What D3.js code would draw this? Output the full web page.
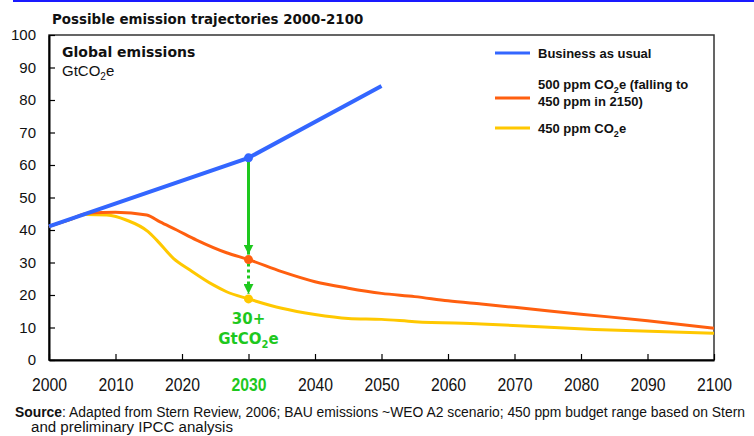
<!DOCTYPE html>
<meta charset="utf-8">
<script src="https://d3js.org/d3.v7.min.js"></script>
<style>
  body { margin: 0; background: #fff; }
  svg text { fill: #111; }
</style>
<div id="chart"></div>
<script>
// ---- data ----
var years = [2000, 2010, 2020, 2030, 2040, 2050, 2060, 2070, 2080, 2090, 2100]
var yTicks = [0, 10, 20, 30, 40, 50, 60, 70, 80, 90, 100]

var bauYears = [2000, 2030, 2050]
var bauValues = [41.1, 62.2, 84.3]

var ppm500Years = [2000, 2003, 2006, 2010, 2014.7, 2016.7, 2019.2, 2022.2, 2026.7, 2030, 2035, 2040, 2045, 2050, 2055, 2060, 2065, 2070, 2080, 2090, 2100]
var ppm500Values = [41.1, 43.1, 45.2, 45.5, 44.6, 42.5, 40, 36.9, 33, 30.9, 27.2, 24.1, 22.1, 20.5, 19.5, 18.2, 17.2, 16.2, 14.1, 12.1, 9.8]

var ppm450Years = [2000, 2003, 2005.5, 2008.7, 2011.7, 2014.9, 2016.2, 2018.7, 2021.2, 2024.7, 2026.7, 2030, 2035, 2040, 2045, 2050, 2055, 2065, 2082, 2100]
var ppm450Values = [41.1, 43.1, 44.8, 44.6, 43, 39.5, 36.9, 31.3, 27.7, 23.1, 21, 18.8, 15.9, 14.0, 12.8, 12.5, 11.8, 11.1, 9.4, 8.2]

var markYear = 2030

var width = 754, height = 436
var mLeft = 49, mRight = 714, mTop = 35, mBottom = 360

var svg = d3.select("#chart").append("svg")
    .attr("width", width)
    .attr("height", height)

var x = d3.scaleLinear().domain([2000, 2100]).range([mLeft, mRight])
var y = d3.scaleLinear().domain([0, 100]).range([mBottom, mTop])

var blue = "#3366ff", orange = "#ff5f0f", yellow = "#ffc800", green = "#1ec81e"

// top rule + title
svg.append("line")
  .attr("x1", 13).attr("x2", width).attr("y1", 1).attr("y2", 1)
  .style("stroke", "#1a1aff").style("stroke-width", 2)

svg.append("text")
  .attr("x", 52).attr("y", 24)
  .style("font-family", "DejaVu Sans").style("font-weight", "bold").style("font-size", "13.4px")
  .text("Possible emission trajectories 2000-2100")

// frame
svg.append("rect")
  .attr("x", mLeft).attr("y", mTop)
  .attr("width", mRight - mLeft).attr("height", mBottom - mTop)
  .style("fill", "none").style("stroke", "#333").style("stroke-width", 1.5)

// axes
var yAxis = svg.append("g")
  .attr("transform", "translate(" + mLeft + ",0)")
  .call(d3.axisLeft(y).tickValues(yTicks).tickSize(-6).tickSizeOuter(0).tickPadding(13))
yAxis.select(".domain").style("stroke", "#000").style("stroke-width", 2)
yAxis.selectAll(".tick line").style("stroke", "#000").style("stroke-width", 1.2)
yAxis.selectAll("text")
  .style("font-family", "Liberation Sans").style("font-size", "15px").style("fill", "#111")

var xAxis = svg.append("g")
  .attr("transform", "translate(0," + mBottom + ")")
  .call(d3.axisBottom(x).tickValues(years).tickFormat(d3.format("d")).tickSize(-6).tickSizeOuter(0).tickPadding(18))
xAxis.select(".domain").style("stroke", "#000").style("stroke-width", 2)
xAxis.selectAll(".tick line").style("stroke", "#000").style("stroke-width", 1.2)
xAxis.selectAll("text")
  .attr("textLength", 35).attr("lengthAdjust", "spacingAndGlyphs")
  .style("font-family", "Liberation Sans").style("font-size", "19px")
  .style("fill", function(d){ return d === markYear ? green : "#111" })
  .style("font-weight", function(d){ return d === markYear ? "bold" : "normal" })

// in-plot titles
svg.append("text")
  .attr("x", 62).attr("y", 57)
  .style("font-family", "DejaVu Sans").style("font-weight", "bold").style("font-size", "14px")
  .text("Global emissions")
var unit = svg.append("text")
  .attr("x", 62).attr("y", 76)
  .style("font-family", "Liberation Sans").style("font-size", "15px")
unit.append("tspan").text("GtCO")
unit.append("tspan").attr("dy", 4).style("font-size", "10px").text("2")
unit.append("tspan").attr("dy", -4).text("e")

// lines
function series(ys, vs) { return ys.map(function(d, i){ return [d, vs[i]] }) }
var line = d3.line()
  .x(function(d){ return x(d[0]) })
  .y(function(d){ return y(d[1]) })
  .curve(d3.curveMonotoneX)

svg.append("path").datum(series(ppm450Years, ppm450Values))
  .attr("d", line).style("fill", "none").style("stroke", yellow).style("stroke-width", 3)
svg.append("path").datum(series(ppm500Years, ppm500Values))
  .attr("d", line).style("fill", "none").style("stroke", orange).style("stroke-width", 3)
svg.append("path").datum(series(bauYears, bauValues))
  .attr("d", d3.line().x(function(d){ return x(d[0]) }).y(function(d){ return y(d[1]) }))
  .style("fill", "none").style("stroke", blue).style("stroke-width", 4)

// arrows at 2030
var defs = svg.append("defs")
defs.append("marker")
  .attr("id", "head").attr("viewBox", "0 0 10 10")
  .attr("refX", 10).attr("refY", 5)
  .attr("markerWidth", 10).attr("markerHeight", 10)
  .attr("markerUnits", "userSpaceOnUse")
  .attr("orient", "auto")
  .append("path").attr("d", "M0,0L10,5L0,10Z").style("fill", green)

var bau30 = bauValues[1]
var o30 = ppm500Values[ppm500Years.indexOf(markYear)]
var y30 = ppm450Values[ppm450Years.indexOf(markYear)]

svg.append("line")
  .attr("x1", x(markYear)).attr("x2", x(markYear))
  .attr("y1", y(bau30)).attr("y2", y(o30) - 5)
  .style("stroke", green).style("stroke-width", 3)
  .attr("marker-end", "url(#head)")
svg.append("line")
  .attr("x1", x(markYear)).attr("x2", x(markYear))
  .attr("y1", y(o30) + 4).attr("y2", y(y30) - 5)
  .style("stroke", green).style("stroke-width", 3)
  .style("stroke-dasharray", "3,3")
  .attr("marker-end", "url(#head)")

svg.selectAll("circle.pt")
  .data([[bau30, blue], [o30, orange], [y30, yellow]])
  .enter().append("circle")
  .attr("class", "pt")
  .attr("cx", x(markYear))
  .attr("cy", function(d){ return y(d[0]) })
  .attr("r", 4.5)
  .style("fill", function(d){ return d[1] })

var gLab = svg.append("g")
  .style("font-family", "DejaVu Sans").style("font-weight", "bold").style("font-size", "15px")
gLab.append("text")
  .attr("x", x(markYear)).attr("y", 324).attr("text-anchor", "middle")
  .style("fill", green).text("30+")
var gt = gLab.append("text")
  .attr("x", x(markYear)).attr("y", 344).attr("text-anchor", "middle")
  .style("fill", green)
gt.append("tspan").text("GtCO")
gt.append("tspan").attr("dy", 4).style("font-size", "10px").text("2")
gt.append("tspan").attr("dy", -4).text("e")

// legend
var lg = svg.append("g")
  .style("font-family", "Liberation Sans").style("font-size", "13px").style("font-weight", "bold")
function legendLine(ty, color) {
  lg.append("line")
    .attr("x1", 495).attr("x2", 530).attr("y1", ty).attr("y2", ty)
    .style("stroke", color).style("stroke-width", 3)
}
legendLine(53, blue)
legendLine(98, orange)
legendLine(128, yellow)
lg.append("text").attr("x", 538).attr("y", 58).text("Business as usual")

var t2 = lg.append("text").attr("x", 538).attr("y", 89)
t2.append("tspan").text("500 ppm CO")
t2.append("tspan").attr("dy", 4).style("font-size", "9px").text("2")
t2.append("tspan").attr("dy", -4).text("e (falling to")
lg.append("text").attr("x", 538).attr("y", 106).text("450 ppm in 2150)")

var t3 = lg.append("text").attr("x", 538).attr("y", 133)
t3.append("tspan").text("450 ppm CO")
t3.append("tspan").attr("dy", 4).style("font-size", "9px").text("2")
t3.append("tspan").attr("dy", -4).text("e")

// source note
var src = svg.append("g")
  .style("font-family", "Liberation Sans").style("font-size", "14px")
var s1 = src.append("text").attr("x", 15).attr("y", 417)
  .attr("textLength", 730).attr("lengthAdjust", "spacingAndGlyphs")
s1.append("tspan").style("font-weight", "bold").text("Source")
s1.append("tspan").text(": Adapted from Stern Review, 2006; BAU emissions ~WEO A2 scenario; 450 ppm budget range based on Stern")
src.append("text").attr("x", 31).attr("y", 432)
  .attr("textLength", 202).attr("lengthAdjust", "spacingAndGlyphs")
  .text("and preliminary IPCC analysis")
</script>
